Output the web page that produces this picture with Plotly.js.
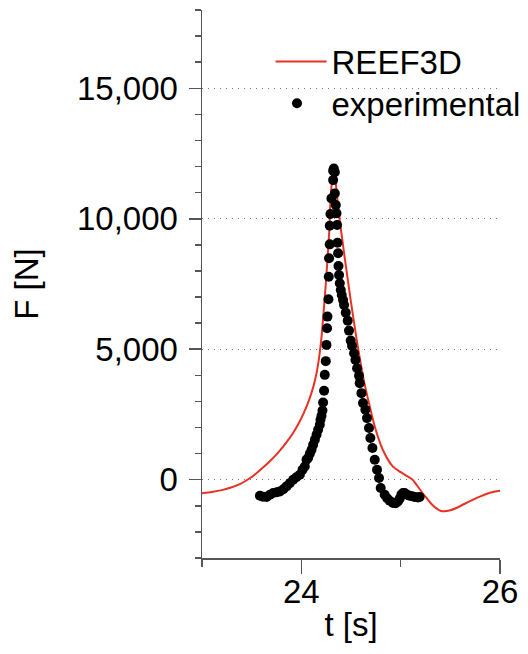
<!DOCTYPE html>
<html>
<head>
<meta charset="utf-8">
<script src="https://cdn.plot.ly/plotly-3.0.1.min.js"></script>
<style>html,body{margin:0;padding:0;background:#fff;}#chart{width:528px;height:654px;}</style>
</head>
<body>
<div id="chart"></div>
<script>
// REEF3D numerical force time series
const reefT = [23.00, 23.10, 23.20, 23.30, 23.38, 23.45, 23.52, 23.60, 23.68, 23.76, 23.84, 23.92, 23.99, 24.05, 24.10, 24.14, 24.17, 24.20, 24.225, 24.25, 24.28, 24.295, 24.31, 24.325, 24.335, 24.35, 24.37, 24.395, 24.437, 24.50, 24.56, 24.628, 24.68, 24.739, 24.82, 24.92, 25.00, 25.06, 25.12, 25.17, 25.22, 25.26, 25.31, 25.36, 25.40, 25.44, 25.50, 25.56, 25.64, 25.73, 25.81, 25.89, 25.95, 26.00];
const reefF = [-520, -470, -400, -290, -170, -20, 160, 420, 700, 1010, 1380, 1810, 2280, 2780, 3300, 3850, 4450, 5350, 6450, 7700, 9450, 10800, 11450, 11700, 11670, 11250, 10450, 9694, 8500, 6800, 5300, 3827, 2950, 2040, 1148, 510, 290, 150, 0, -250, -510, -700, -930, -1100, -1190, -1212, -1170, -1084, -930, -765, -630, -510, -450, -421];

// experimental measurements
const expT = [23.583, 23.613, 23.650, 23.683, 23.717, 23.754, 23.784, 23.819, 23.851, 23.884, 23.918, 23.950, 23.985, 24.012, 24.035, 24.052, 24.068, 24.085, 24.103, 24.119, 24.136, 24.153, 24.169, 24.186, 24.193, 24.203, 24.213, 24.219, 24.229, 24.236, 24.246, 24.253, 24.259, 24.263, 24.273, 24.276, 24.279, 24.286, 24.286, 24.293, 24.303, 24.320, 24.320, 24.327, 24.337, 24.337, 24.347, 24.354, 24.360, 24.364, 24.370, 24.374, 24.380, 24.387, 24.397, 24.407, 24.420, 24.430, 24.447, 24.467, 24.480, 24.497, 24.511, 24.531, 24.545, 24.561, 24.581, 24.588, 24.605, 24.621, 24.645, 24.661, 24.681, 24.695, 24.716, 24.739, 24.762, 24.782, 24.799, 24.839, 24.864, 24.889, 24.923, 24.950, 24.973, 24.990, 25.007, 25.023, 25.040, 25.065, 25.090, 25.116, 25.141, 25.174, 25.191];
const expF = [-612, -651, -662, -574, -509, -478, -448, -364, -256, -134, 0, 96, 191, 383, 509, 765, 830, 995, 1148, 1339, 1531, 1722, 1913, 2105, 2296, 2449, 2652, 2958, 3406, 4018, 4543, 5166, 5806, 6250, 6915, 7780, 8484, 9020, 9732, 10180, 10781, 11481, 11837, 11929, 11787, 10972, 10524, 10207, 9759, 9082, 8676, 8190, 7845, 7528, 7271, 7080, 6889, 6697, 6403, 6096, 5714, 5331, 5128, 4849, 4592, 4274, 3980, 3701, 3318, 2935, 2679, 2361, 1979, 1596, 1213, 765, 383, 65, -318, -574, -708, -804, -892, -899, -830, -727, -574, -509, -509, -574, -612, -631, -662, -677, -662];

const yTickVals = [0, 5000, 10000, 15000];
const yTickText = ['0', '5,000', '10,000', '15,000'];
const xTickVals = [24, 26];
const xTickText = ['24', '26'];

const FONT = 'Liberation Sans, Arial, Helvetica, sans-serif';
const AX = '#555555';
const FS = 33;

const data = [
  {x: reefT, y: reefF, type: 'scatter', mode: 'lines', name: 'REEF3D', legend: 'legend',
   line: {color: 'rgb(232,50,36)', width: 2, shape: 'spline', smoothing: 0.7}},
  {x: expT, y: expF, type: 'scatter', mode: 'markers', name: 'experimental', legend: 'legend2',
   marker: {color: '#000000', size: 10}}
];

const layout = {
  width: 528, height: 654,
  margin: {l: 202, r: 28, t: 10, b: 96, autoexpand: false},
  paper_bgcolor: '#ffffff', plot_bgcolor: '#ffffff',
  font: {family: FONT, size: FS, color: '#000'},
  showlegend: true,
  legend: {x: 0.23, y: 0.957, xanchor: 'left', yanchor: 'top', bgcolor: 'rgba(0,0,0,0)',
           font: {family: FONT, size: FS, color: '#000'}, itemwidth: 51},
  legend2: {x: 0.203, y: 0.881, xanchor: 'left', yanchor: 'top', bgcolor: 'rgba(0,0,0,0)',
           font: {family: FONT, size: FS, color: '#000'}, itemwidth: 59},
  xaxis: {
    range: [23, 26], showgrid: false, zeroline: false,
    showline: true, linecolor: AX, linewidth: 1.5,
    tickmode: 'array', tickvals: xTickVals, ticktext: xTickText,
    ticks: 'outside', ticklen: 14, tickwidth: 1.5, tickcolor: AX,
    ticklabelstandoff: -10,
    tickfont: {family: FONT, size: FS, color: '#000'},
    minor: {dtick: 1, tick0: 23, ticks: 'outside', ticklen: 7, tickwidth: 1.5, tickcolor: AX, showgrid: false},
    title: {text: 't [s]', font: {family: FONT, size: FS, color: '#000'}, standoff: 4}
  },
  yaxis: {
    range: [-3000, 18000], zeroline: false,
    showline: true, linecolor: AX, linewidth: 1.5,
    tickmode: 'array', tickvals: yTickVals, ticktext: yTickText,
    ticks: 'outside', ticklen: 12, tickwidth: 1.5, tickcolor: AX,
    ticklabelstandoff: 4,
    tickfont: {family: FONT, size: FS, color: '#000'},
    showgrid: true, gridcolor: '#777777', gridwidth: 1, griddash: '1px,5px',
    minor: {dtick: 1000, tick0: 0, ticks: 'outside', ticklen: 6, tickwidth: 1.5, tickcolor: AX, showgrid: false},
    title: {text: 'F [N]', font: {family: FONT, size: FS, color: '#000'}, standoff: 28}
  }
};

Plotly.newPlot('chart', data, layout, {displayModeBar: false, staticPlot: true});
</script>
</body>
</html>
